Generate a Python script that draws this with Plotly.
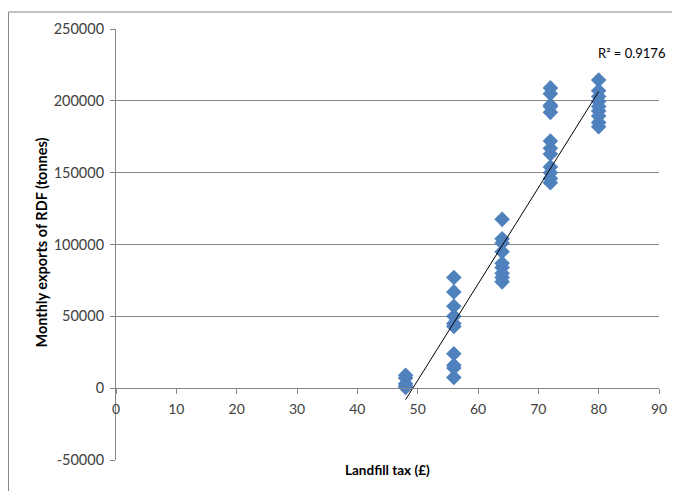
import plotly.graph_objects as go

# Data
tax_48 = [48] * 5
exp_48 = [9000, 7000, 3000, 1500, 500]
tax_56 = [56] * 10
exp_56 = [77000, 67000, 57000, 50000, 45000, 43000, 24000, 16000, 14000, 7500]
tax_64 = [64] * 9
exp_64 = [117500, 104000, 101000, 95000, 87000, 84000, 80000, 77000, 74000]
tax_72 = [72] * 12
exp_72 = [209000, 205000, 196000, 192000, 172000, 167000, 163000, 154000, 150000, 146000, 143000, 197000]
tax_80 = [80] * 9
exp_80 = [214500, 207000, 203000, 199500, 196000, 193000, 189500, 185000, 182000]

landfill_tax = tax_48 + tax_56 + tax_64 + tax_72 + tax_80
exports = exp_48 + exp_56 + exp_64 + exp_72 + exp_80

# Linear trendline as drawn in the picture (end points)
trend_tax = [48, 80]
trend_exports = [-8000, 206500]

x_ticks = [0, 10, 20, 30, 40, 50, 60, 70, 80, 90]
y_ticks = [-50000, 0, 50000, 100000, 150000, 200000, 250000]
r2_label = "R² = 0.9176"

font_family = "Lato, 'Open Sans', sans-serif"
grey = "#868686"

fig = go.Figure()
fig.add_trace(go.Scatter(
    x=landfill_tax, y=exports, mode="markers",
    marker=dict(symbol="diamond", size=12, color="#4F81BD",
                line=dict(width=0)),
    showlegend=False, cliponaxis=False,
))
fig.add_trace(go.Scatter(
    x=trend_tax, y=trend_exports, mode="lines",
    line=dict(color="#000000", width=1),
    showlegend=False, cliponaxis=False,
))

fig.update_layout(
    width=672, height=483,
    margin=dict(l=108, r=21, t=21, b=31),
    paper_bgcolor="white", plot_bgcolor="white",
    font=dict(family=font_family, size=12, color="#404040"),
    xaxis=dict(
        range=[0, 90], tickvals=x_ticks, ticktext=[str(v) for v in x_ticks],
        showgrid=False, zeroline=False,
        showline=True, linecolor=grey, linewidth=1,
        ticks="outside", ticklen=5, tickcolor=grey,
        anchor="free", position=1/6,
        ticklabelstandoff=3,
        tickfont=dict(size=14, color="#404040"),
    ),
    yaxis=dict(
        range=[-50000, 250000], tickvals=y_ticks, ticktext=[str(v) for v in y_ticks],
        showgrid=True, gridcolor=grey, gridwidth=1,
        zeroline=False,
        showline=True, linecolor=grey, linewidth=1,
        ticks="outside", ticklen=5, tickcolor=grey,
        ticklabelstandoff=3,
        tickfont=dict(size=14.5, color="#404040"),
    ),
    annotations=[
        dict(text="<b>Monthly exports of RDF (tonnes)</b>", x=-0.138, y=0.5046,
             xref="paper", yref="paper", textangle=-90,
             xanchor="center", yanchor="middle", showarrow=False,
             font=dict(size=14.5, color="#000000")),
        dict(text="<b>Landfill tax (£)</b>", x=0.5, y=-0.023, xref="paper", yref="paper",
             xanchor="center", yanchor="middle", showarrow=False,
             font=dict(size=13.5, color="#000000")),
        dict(text=r2_label, x=85.4, y=233500, xref="x", yref="y",
             xanchor="center", yanchor="middle", showarrow=False,
             font=dict(size=13, color="#000000")),
    ],
    shapes=[
        dict(type="rect", xref="paper", yref="paper",
             x0=-0.198, x1=1.2, y0=-0.3, y1=1.0394,
             line=dict(color=grey, width=1), layer="below"),
    ],
)

fig.write_html("out.html")
